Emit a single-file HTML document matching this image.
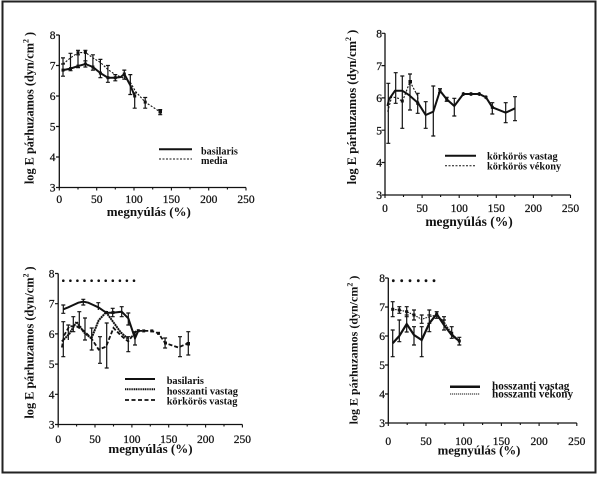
<!DOCTYPE html>
<html><head><meta charset="utf-8"><style>
html,body{margin:0;padding:0;background:#fff;}
svg{display:block;}
text{font-family:"Liberation Serif",serif;fill:#111;}
.t{font-size:11.5px;stroke:#111;stroke-width:0.25px;}
.b{font-weight:bold;}
</style></head><body>
<svg width="600" height="477" viewBox="0 0 600 477" xmlns="http://www.w3.org/2000/svg">
<rect x="0" y="0" width="600" height="477" fill="#fff"/>
<rect x="2.5" y="1.5" width="593" height="471" fill="none" stroke="#222" stroke-width="2"/>

<!-- ================= PANEL 1 ================= -->
<g stroke="#111" fill="none">
<path d="M59.3 35V187.5H246" stroke-width="1.3"/>
<path d="M56 35H59.3M56 65.5H59.3M56 96H59.3M56 126.5H59.3M56 157H59.3M56 187.5H59.3" stroke-width="1.2"/>
<path d="M59.3 187.5v3M78 187.5v2M96.7 187.5v3M115.3 187.5v2M134 187.5v3M152.7 187.5v2M171.4 187.5v3M190 187.5v2M208.7 187.5v3M227.4 187.5v2M246 187.5v3" stroke-width="1.1"/>
</g>
<g class="t" text-anchor="end">
<text x="55.5" y="39">8</text><text x="55.5" y="69.5">7</text><text x="55.5" y="100">6</text><text x="55.5" y="130.5">5</text><text x="55.5" y="161">4</text><text x="55.5" y="191.5">3</text>
</g>
<g class="t" text-anchor="middle">
<text x="59.3" y="203">0</text><text x="96.7" y="203">50</text><text x="134" y="203">100</text><text x="171.4" y="203">150</text><text x="208.7" y="203">200</text><text x="246" y="203">250</text>
</g>
<text class="b" x="148.8" y="216" font-size="13" text-anchor="middle">megnyúlás (%)</text>
<text class="b" font-size="12.3" text-anchor="middle" transform="translate(33.5,108) rotate(-90)">log E párhuzamos (dyn/cm<tspan dy="-5" font-size="8">2</tspan><tspan dy="5"> )</tspan></text>
<polyline fill="none" stroke="#111" stroke-width="2" points="63,70.1 70.5,68.6 78,66.1 85.4,64 92.9,67 100.4,73.1 107.9,77.7 115.3,77.7 120.6,77.1 124.3,74 130.3,85.3 134.7,96"/>
<polyline fill="none" stroke="#111" stroke-width="1.1" stroke-dasharray="2 1.5" points="63,64 70.5,57.9 78,52.7 85.4,52.4 92.9,57.9 100.4,62.4 107.9,69.5 115.3,74.7 122.8,77.7 130.3,82.3 135.5,91.4 145.2,102.1 160.2,111.9"/>
<path fill="none" stroke="#111" stroke-width="1.2" d="M63 57.9V76.2M61 57.9H65M61 76.2H65M61 64H65
M70.5 53.3V70.7M68.5 53.3H72.5M68.5 70.7H72.5
M78 50.3V67.6M76 50.3H80M76 67.6H80M76 54.8H80
M85.4 50.3V67M83.4 50.3H87.4M83.4 67H87.4M83.4 60.9H87.4
M92.9 54.8V70.1M90.9 54.8H94.9M90.9 70.1H94.9
M100.4 59.4V77.7M98.4 59.4H102.4M98.4 77.7H102.4
M107.9 65.5V82.3M105.9 65.5H109.9M105.9 82.3H109.9
M115.3 74.6V80.8M113.3 74.6H117.3M113.3 80.8H117.3
M124.3 70.1V79.2M122.3 70.1H126.3M122.3 79.2H126.3
M130.3 74.6V94.5M128.3 74.6H132.3M128.3 94.5H132.3
M134.7 93V108.2M132.7 93H136.7M132.7 108.2H136.7
M145.2 97.5V108.2M143.2 97.5H147.2M143.2 108.2H147.2
M160.2 109.6V114.7M158.2 109.6H162.2M158.2 114.7H162.2"/>
<g fill="#111">
<rect x="61.5" y="68.6" width="3" height="3"/><rect x="69" y="67.1" width="3" height="3"/><rect x="76.5" y="64.6" width="3" height="3"/><rect x="83.9" y="62.5" width="3" height="3"/><rect x="91.4" y="65.5" width="3" height="3"/><rect x="98.9" y="71.6" width="3" height="3"/><rect x="106.4" y="76.2" width="3" height="3"/><rect x="113.8" y="76.2" width="3" height="3"/><rect x="122.8" y="72.5" width="3" height="3"/><rect x="133.2" y="94.5" width="3" height="3"/>
<rect x="76.5" y="51.2" width="3" height="3"/><rect x="83.9" y="50.9" width="3" height="3"/><rect x="143.7" y="100.6" width="3" height="3"/><rect x="158.5" y="110" width="3.5" height="3.5"/>
</g>
<path d="M159 149.3H192" stroke="#111" stroke-width="2"/>
<path d="M159 159H192" stroke="#111" stroke-width="1" stroke-dasharray="2 1.5"/>
<text class="b" x="201" y="154.5" font-size="10.2">basilaris</text>
<text class="b" x="201" y="164" font-size="10.2">media</text>

<!-- ================= PANEL 2 ================= -->
<g stroke="#111" fill="none">
<path d="M385 33.3V195H570.5" stroke-width="1.3"/>
<path d="M381.5 33.3H385M381.5 65.6H385M381.5 97.9H385M381.5 130.2H385M381.5 162.5H385M381.5 195H385" stroke-width="1.2"/>
<path d="M385 195v3M403.5 195v2M422.1 195v3M440.6 195v2M459.2 195v3M477.7 195v2M496.3 195v3M514.8 195v2M533.4 195v3M551.9 195v2M570.5 195v3" stroke-width="1.1"/>
</g>
<g class="t" text-anchor="end" font-size="12">
<text x="382" y="37.5">8</text><text x="382" y="69.8">7</text><text x="382" y="102.1">6</text><text x="382" y="134.4">5</text><text x="382" y="166.7">4</text><text x="382" y="199.2">3</text>
</g>
<g class="t" text-anchor="middle" font-size="12">
<text x="385" y="212">0</text><text x="422.1" y="212">50</text><text x="459.2" y="212">100</text><text x="496.3" y="212">150</text><text x="533.4" y="212">200</text><text x="570.5" y="212">250</text>
</g>
<text class="b" x="469" y="226" font-size="13.5" text-anchor="middle">megnyúlás (%)</text>
<text class="b" font-size="12.5" text-anchor="middle" transform="translate(356,107) rotate(-90)">log E párhuzamos (dyn/cm<tspan dy="-5" font-size="8">2</tspan><tspan dy="5"> )</tspan></text>
<polyline fill="none" stroke="#111" stroke-width="2" points="387.5,106 389,99.3 395,90.7 402.3,90.7 409,95 418.3,103.3 425.7,115 433.3,111.7 440,90.7 446.7,99.3 454.3,106 463.3,94 471,94 479.3,94 486,97.3 492.3,107.3 505.7,112.7 515,108.3"/>
<polyline fill="none" stroke="#111" stroke-width="1.1" stroke-dasharray="2 1.5" points="387.7,111.7 391.7,96.7 398.3,98.3 402.3,101.7 410,81.7 417.7,96 418.3,103.3"/>
<path fill="none" stroke="#111" stroke-width="1.2" d="M388.3 83.3V143.3M386.3 83.3H390.3M386.3 143.3H390.3
M395.7 72.7V103.3M393.7 72.7H397.7M393.7 103.3H397.7
M402.3 76V128.3M400.3 76H404.3M400.3 128.3H404.3
M410 74V110M408 74H412M408 110H412
M417.7 93.3V113.3M415.7 93.3H419.7M415.7 113.3H419.7
M425.7 101.7V128.3M423.7 101.7H427.7M423.7 128.3H427.7
M433.3 86V136M431.3 86H435.3M431.3 136H435.3
M440 88.7V92.7M438 88.7H442M438 92.7H442
M446.7 97.3V101.3M444.7 97.3H448.7M444.7 101.3H448.7
M454.3 98.3V116M452.3 98.3H456.3M452.3 116H456.3
M463.3 92V96M471 92V96M479.3 92V96M486 95.3V99.3
M492.3 102.7V114M490.3 102.7H494.3M490.3 114H494.3
M505.7 102.7V122.7M503.7 102.7H507.7M503.7 122.7H507.7
M515 96.7V120.7M513 96.7H517M513 120.7H517"/>
<g fill="#111">
<rect x="408.5" y="80" width="3.5" height="3.5"/><rect x="400.8" y="99.5" width="3" height="3"/><rect x="438.5" y="89.2" width="3" height="3"/><rect x="445.2" y="97.8" width="3" height="3"/><rect x="461.8" y="92.5" width="3" height="3"/><rect x="469.5" y="92.5" width="3" height="3"/><rect x="477.8" y="92.5" width="3" height="3"/><rect x="484.5" y="95.8" width="3" height="3"/><rect x="490.8" y="105.8" width="3" height="3"/><rect x="416.2" y="101.8" width="3" height="3"/>
</g>
<path d="M445 155.7H476" stroke="#111" stroke-width="2"/>
<path d="M445 165.7H476" stroke="#111" stroke-width="1" stroke-dasharray="2 1.5"/>
<text class="b" x="487" y="159.5" font-size="10.3">körkörös vastag</text>
<text class="b" x="487" y="169.5" font-size="10.3">körkörös vékony</text>

<!-- ================= PANEL 3 ================= -->
<g stroke="#111" fill="none">
<path d="M58.2 273.5V424.5H242.4" stroke-width="1.3"/>
<path d="M55 273.5H58.2M55 303.7H58.2M55 333.9H58.2M55 364.1H58.2M55 394.3H58.2M55 424.5H58.2" stroke-width="1.2"/>
<path d="M58.2 424.5v3M76.6 424.5v2M95 424.5v3M113.5 424.5v2M131.9 424.5v3M150.3 424.5v2M168.7 424.5v3M187.2 424.5v2M205.6 424.5v3M224 424.5v2M242.4 424.5v3" stroke-width="1.1"/>
</g>
<g class="t" text-anchor="end">
<text x="54.5" y="277.5">8</text><text x="54.5" y="307.7">7</text><text x="54.5" y="337.9">6</text><text x="54.5" y="368.1">5</text><text x="54.5" y="398.3">4</text><text x="54.5" y="428.5">3</text>
</g>
<g class="t" text-anchor="middle">
<text x="58.2" y="443">0</text><text x="95" y="443">50</text><text x="131.9" y="443">100</text><text x="168.7" y="443">150</text><text x="205.6" y="443">200</text><text x="242.4" y="443">250</text>
</g>
<text class="b" x="150.5" y="453" font-size="13" text-anchor="middle">megnyúlás (%)</text>
<text class="b" font-size="12.3" text-anchor="middle" transform="translate(33.5,342.5) rotate(-90)">log E párhuzamos (dyn/cm<tspan dy="-5" font-size="8">2</tspan><tspan dy="5"> )</tspan></text>
<g fill="#111">
<circle cx="63.3" cy="280.7" r="1.3"/><circle cx="70.4" cy="280.7" r="1.3"/><circle cx="77.4" cy="280.7" r="1.3"/><circle cx="84.5" cy="280.7" r="1.3"/><circle cx="91.6" cy="280.7" r="1.3"/><circle cx="98.7" cy="280.7" r="1.3"/><circle cx="105.7" cy="280.7" r="1.3"/><circle cx="112.8" cy="280.7" r="1.3"/><circle cx="119.9" cy="280.7" r="1.3"/><circle cx="126.9" cy="280.7" r="1.3"/><circle cx="134" cy="280.7" r="1.3"/>
</g>
<polyline fill="none" stroke="#111" stroke-width="2" points="63.3,309.3 68.3,307.3 73.3,305 78.3,302.7 83.3,301.7 88.3,302.7 93.3,305 98.3,307.3 103.3,310.7 106.7,312.7 112.7,312.7 121.7,311.7 128.3,318.3 135,338.3 138.3,330.7"/>
<polyline fill="none" stroke="#111" stroke-width="2" stroke-dasharray="2 0.5" points="61.9,341.4 69.3,333.9 76.6,321.8 84,332.4 91.4,338.4 98.7,320.3 106.1,312.2 113.5,322.4 120.8,332.4 128.2,339"/>
<polyline fill="none" stroke="#111" stroke-width="1.8" stroke-dasharray="4 2" points="61.9,347.5 64.1,335.4 69.3,326.3 76.6,326.3 84,330.9 91.4,338.4 98.7,349.6 106.1,346.6 113.5,327.9 120.8,335.4 128.2,341.4 136.3,330.9 143.7,330.9 151.8,330.9 158.4,333.3 165.1,343 178.3,347.5 187.2,343.6"/>
<path fill="none" stroke="#111" stroke-width="1.2" d="M63.3 305V313.3M61.3 305H65.3M61.3 313.3H65.3
M83.3 299.3V305M81.3 299.3H85.3M81.3 305H85.3
M98.3 302.7V310M96.3 302.7H100.3
M112.7 308.3V316.7M110.7 308.3H114.7M110.7 316.7H114.7
M121.7 306.7V316.7M119.7 306.7H123.7M119.7 316.7H123.7
M128.3 313V325M126.3 313H130.3M126.3 325H130.3
M135 331.7V345M133 331.7H137M133 345H137
M63.3 321.7V356.7M61.3 321.7H65.3M61.3 356.7H65.3
M68.3 325V340M66.3 325H70.3
M73.3 316.7V331.7M71.3 316.7H75.3M71.3 331.7H75.3
M79.3 311.7V326.7M77.3 311.7H81.3M77.3 326.7H81.3
M85 318V340M83 318H87M83 340H87
M91.7 328V350M89.7 328H93.7M89.7 350H93.7
M100 336.7V363.3M98 336.7H102M98 363.3H102
M106.7 323V368M104.7 323H108.7M104.7 368H108.7
M128.3 336.7V351.7M126.3 336.7H130.3M126.3 351.7H130.3
M165.1 338V348M163.1 338H167.1M163.1 348H167.1
M180 336.7V356.7M178 336.7H182M178 356.7H182
M188.3 331.7V355M186.3 331.7H190.3M186.3 355H190.3"/>
<g fill="#111">
<rect x="136.8" y="329.2" width="3" height="3"/><rect x="142.2" y="329.4" width="3" height="3"/><rect x="150.3" y="329.4" width="3" height="3"/><rect x="157" y="331.8" width="3" height="3"/><rect x="164" y="341.5" width="3" height="3"/><rect x="186.5" y="342" width="3.5" height="3.5"/><rect x="105" y="311" width="3" height="3"/><rect x="111.5" y="311" width="3" height="3"/>
</g>
<path d="M125 379H155" stroke="#111" stroke-width="2"/>
<path d="M125 389.3H155" stroke="#111" stroke-width="2" stroke-dasharray="1.2 0.6"/>
<path d="M125 400H155" stroke="#111" stroke-width="1.8" stroke-dasharray="4 2.5"/>
<text class="b" x="166.7" y="384" font-size="10.3">basilaris</text>
<text class="b" x="166.7" y="394.5" font-size="10.3">hosszanti vastag</text>
<text class="b" x="166.7" y="404.7" font-size="10.3">körkörös vastag</text>

<!-- ================= PANEL 4 ================= -->
<g stroke="#111" fill="none">
<path d="M388.3 278V423H576.8" stroke-width="1.3"/>
<path d="M385 278H388.3M385 307H388.3M385 336H388.3M385 365H388.3M385 394H388.3M385 423H388.3" stroke-width="1.2"/>
<path d="M388.3 423v3M407.2 423v2M426 423v3M444.9 423v2M463.7 423v3M482.6 423v2M501.4 423v3M520.3 423v2M539.1 423v3M558 423v2M576.8 423v3" stroke-width="1.1"/>
</g>
<g class="t" text-anchor="end" font-size="12">
<text x="385" y="282.2">8</text><text x="385" y="311.2">7</text><text x="385" y="340.2">6</text><text x="385" y="369.2">5</text><text x="385" y="398.2">4</text><text x="385" y="427.2">3</text>
</g>
<g class="t" text-anchor="middle" font-size="12">
<text x="388.3" y="445">0</text><text x="426" y="445">50</text><text x="463.7" y="445">100</text><text x="501.4" y="445">150</text><text x="539.1" y="445">200</text><text x="576.8" y="445">250</text>
</g>
<text class="b" x="479" y="454.5" font-size="12.8" text-anchor="middle">megnyúlás (%)</text>
<text class="b" font-size="12" text-anchor="middle" transform="translate(357.5,350) rotate(-90)">log E párhuzamos (dyn/cm<tspan dy="-5" font-size="8">2</tspan><tspan dy="5"> )</tspan></text>
<g fill="#111">
<circle cx="393.3" cy="280.7" r="1.4"/><circle cx="401.7" cy="280.7" r="1.4"/><circle cx="410" cy="280.7" r="1.4"/><circle cx="418.3" cy="280.7" r="1.4"/><circle cx="426" cy="280.7" r="1.4"/><circle cx="434" cy="280.7" r="1.4"/>
</g>
<polyline fill="none" stroke="#111" stroke-width="2.2" points="392.7,343.3 399.3,336 406.7,324 414,335 421.7,340 429.3,323.3 436.7,314 444,325 451.7,335 459.3,341"/>
<polyline fill="none" stroke="#111" stroke-width="1.1" stroke-dasharray="1.5 1" points="392.7,309.3 399.3,310 406.7,311.7 414,315 421.7,319.3 429.3,316.7 436.7,315 444,321.7 451.7,333.3 459.3,341"/>
<path fill="none" stroke="#111" stroke-width="1.2" d="M392.7 330V356.7M390.7 330H394.7M390.7 356.7H394.7
M399.3 320V341.7M397.3 320H401.3M397.3 341.7H401.3
M406.7 315V332M404.7 315H408.7M404.7 332H408.7
M414 326.7V345M412 326.7H416M412 345H416
M421.7 326.7V356.7M419.7 326.7H423.7M419.7 356.7H423.7
M429.3 315V331.7M427.3 315H431.3M427.3 331.7H431.3
M436.7 311.7V318.3M434.7 311.7H438.7M434.7 318.3H438.7
M444 320V330M442 320H446M442 330H446
M451.7 326.7V338.3M449.7 326.7H453.7M449.7 338.3H453.7
M459.3 337.3V345M457.3 337.3H461.3M457.3 345H461.3
M392.7 301.7V316.7M390.7 301.7H394.7M390.7 316.7H394.7
M399.3 306.7V313.3M397.3 306.7H401.3M397.3 313.3H401.3
M406.7 306.7V316.7M404.7 306.7H408.7M404.7 316.7H408.7
M414 310V320M412 310H416M412 320H416
M421.7 315V323.3M419.7 315H423.7M419.7 323.3H423.7
M429.3 310V323.3M427.3 310H431.3M427.3 323.3H431.3
M444 316.7V326.7M442 316.7H446"/>
<g fill="#111">
<rect x="435.2" y="312.5" width="3" height="3"/><rect x="450.2" y="331.8" width="3" height="3"/><rect x="457.8" y="339.5" width="3" height="3"/><rect x="391.2" y="307.8" width="3" height="3"/><rect x="397.8" y="308.5" width="3" height="3"/><rect x="405.2" y="310.2" width="3" height="3"/><rect x="412.5" y="313.5" width="3" height="3"/>
</g>
<path d="M450 386.7H480" stroke="#111" stroke-width="2.5"/>
<path d="M450 394H480" stroke="#111" stroke-width="1" stroke-dasharray="1.2 0.8"/>
<text class="b" x="492" y="389.5" font-size="11.2">hosszanti vastag</text>
<text class="b" x="492" y="397.5" font-size="11.2">hosszanti vékony</text>
</svg>
</body></html>
